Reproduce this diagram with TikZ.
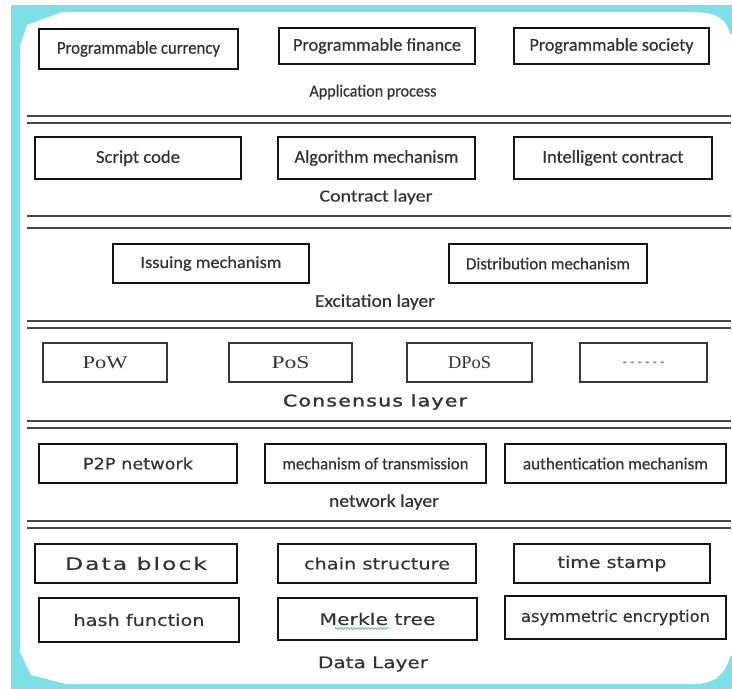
\documentclass[tikz,border=0pt]{standalone}
\usepackage{fontspec}
\usepackage{graphicx}
\setmainfont{Carlito}[FakeBold=0.5]
\newfontfamily\verd{DejaVu Sans}[FakeBold=0.3]
\newfontfamily\verdwide{DejaVu Sans}[LetterSpace=8,FakeBold=0.3]
\newfontfamily\verdheavy{DejaVu Sans}[LetterSpace=6,FakeBold=1.4]
\newfontfamily\tms{Liberation Serif}
\usetikzlibrary{decorations.pathmorphing}

\definecolor{framecyan}{HTML}{7FDFE7}
\definecolor{ink}{HTML}{333333}
\definecolor{edge}{HTML}{141414}
\definecolor{squiggle}{HTML}{8AA6C8}

% set a text to a given width (in pt), keeping its natural height
\newcommand\fitw[2]{\resizebox{#1pt}{\height}{#2}}
\newcommand\fs[1]{\fontsize{#1}{#1}\selectfont}

\tikzset{
  blk/.style={draw=edge, line width=2.7pt, fill=white, inner sep=0pt, text=ink},
  lightblk/.style={draw=edge!85, line width=1.7pt, fill=white, inner sep=0pt, text=ink},
  lbl/.style={inner sep=0pt, text=ink},
  sepline/.style={draw=black!72, line width=1.3pt},
}

\begin{document}
\begin{tikzpicture}[x=1pt,y=-1pt]
\useasboundingbox (0,0) rectangle (732,689);
\fill[white] (0,0) rectangle (732,689);

% frame: cyan mat with a white sheet whose corners are cut and rounded
\fill[framecyan] (11,5) rectangle (732,689);
\fill[white] (20,46) -- (27,25) -- (62,12) -- (690,12)
  .. controls (716,12) and (726,18) .. (730,34) -- (740,34) -- (740,656) -- (730,656)
  .. controls (726,674) and (714,684) .. (694,684) -- (66,684)
  -- (31,675) -- (20,652) -- cycle;

% layer separators
\foreach \ya/\yb in {116/123, 216/228, 321/328, 421/428, 521/528}{
  \draw[sepline] (27,\ya) -- (731,\ya);
  \draw[sepline] (27,\yb) -- (731,\yb);
}

% application process
\node[blk, minimum width=199pt, minimum height=40pt] (cur) at (138.5,49) {\fs{18}\fitw{163}{Programmable currency}};
\node[blk, minimum width=196pt, minimum height=36pt] (fin) at (377,46) {\fs{18}\fitw{168}{Programmable finance}};
\node[blk, minimum width=195pt, minimum height=36pt] (soc) at (611.5,46) {\fs{18}\fitw{164}{Programmable society}};
\node[lbl] (app) at (373,92) {\fs{17}\fitw{127}{Application process}};

% contract layer
\node[blk, minimum width=206pt, minimum height=42pt] (scr) at (138,158) {\fs{18}\fitw{84}{Script code}};
\node[blk, minimum width=197pt, minimum height=42pt] (alg) at (376.5,158) {\fs{18}\fitw{164}{Algorithm mechanism}};
\node[blk, minimum width=198pt, minimum height=42pt] (int) at (613,158) {\fs{18}\fitw{141}{Intelligent contract}};
\node[lbl] (con) at (376,197) {\fs{17}\fitw{113}{Contract layer}};

% excitation layer
\node[blk, minimum width=196pt, minimum height=39pt] (iss) at (211,263.5) {\fs{17}\fitw{141}{Issuing mechanism}};
\node[blk, minimum width=198pt, minimum height=39pt] (dis) at (548,263.5) {\fs{17}\fitw{164}{Distribution mechanism}};
\node[lbl] (exc) at (375,302) {\fs{18}\fitw{120}{Excitation layer}};

% consensus layer
\node[lightblk, minimum width=124pt, minimum height=39pt] (pow) at (105,362.5) {\tms\fs{18}\fitw{45}{PoW}};
\node[lightblk, minimum width=123pt, minimum height=39pt] (pos) at (290.5,362.5) {\tms\fs{18}\fitw{38}{PoS}};
\node[lightblk, minimum width=125pt, minimum height=39pt] (dpos) at (469.5,362.5) {\tms\fs{18}\fitw{43}{DPoS}};
\node[lightblk, minimum width=127pt, minimum height=39pt] (more) at (643.5,362.5) {\tms\fs{16}\textcolor{black!45}{\fitw{45}{......}}};
\node[lbl] (cns) at (375,402) {\verdheavy\fs{16}\fitw{184}{Consensus layer}};

% network layer
\node[blk, minimum width=198pt, minimum height=39pt] (p2p) at (138,463.5) {\verd\fs{16}\fitw{110}{P2P network}};
\node[blk, minimum width=221pt, minimum height=39pt] (mot) at (375.5,463.5) {\fs{17}\fitw{186}{mechanism of transmission}};
\node[blk, minimum width=221pt, minimum height=39pt] (aut) at (615.5,463.5) {\fs{17}\fitw{185}{authentication mechanism}};
\node[lbl] (net) at (384,502) {\fs{18}\fitw{110}{network layer}};

% data layer
\node[blk, minimum width=202pt, minimum height=39pt] (dbk) at (136,563.5) {\verdwide\fs{17}\fitw{142}{Data block}};
\node[blk, minimum width=198pt, minimum height=39pt] (chs) at (377,563.5) {\verd\fs{16}\fitw{146}{chain structure}};
\node[blk, minimum width=196pt, minimum height=39pt] (tst) at (612,563.5) {\verd\fs{16}\fitw{109}{time stamp}};
\node[blk, minimum width=200pt, minimum height=44pt] (hsh) at (139,620) {\verd\fs{16}\fitw{131}{hash function}};
\node[blk, minimum width=199pt, minimum height=42pt] (mrk) at (377.5,619) {\verd\fs{16}\fitw{116}{Merkle tree}};
\node[blk, minimum width=221pt, minimum height=43pt] (asy) at (615.5,617.5) {\verd\fs{16}\fitw{189}{asymmetric encryption}};
\node[lbl] (dat) at (373,664) {\verd\fs{16}\fitw{110}{Data Layer}};

% spell-check underline beneath "Merkle"
\draw[squiggle, line width=0.8pt, decorate, decoration={snake, amplitude=0.9pt, segment length=3pt}]
  (335,628.5) -- (389,628.5);
\end{tikzpicture}
\end{document}
